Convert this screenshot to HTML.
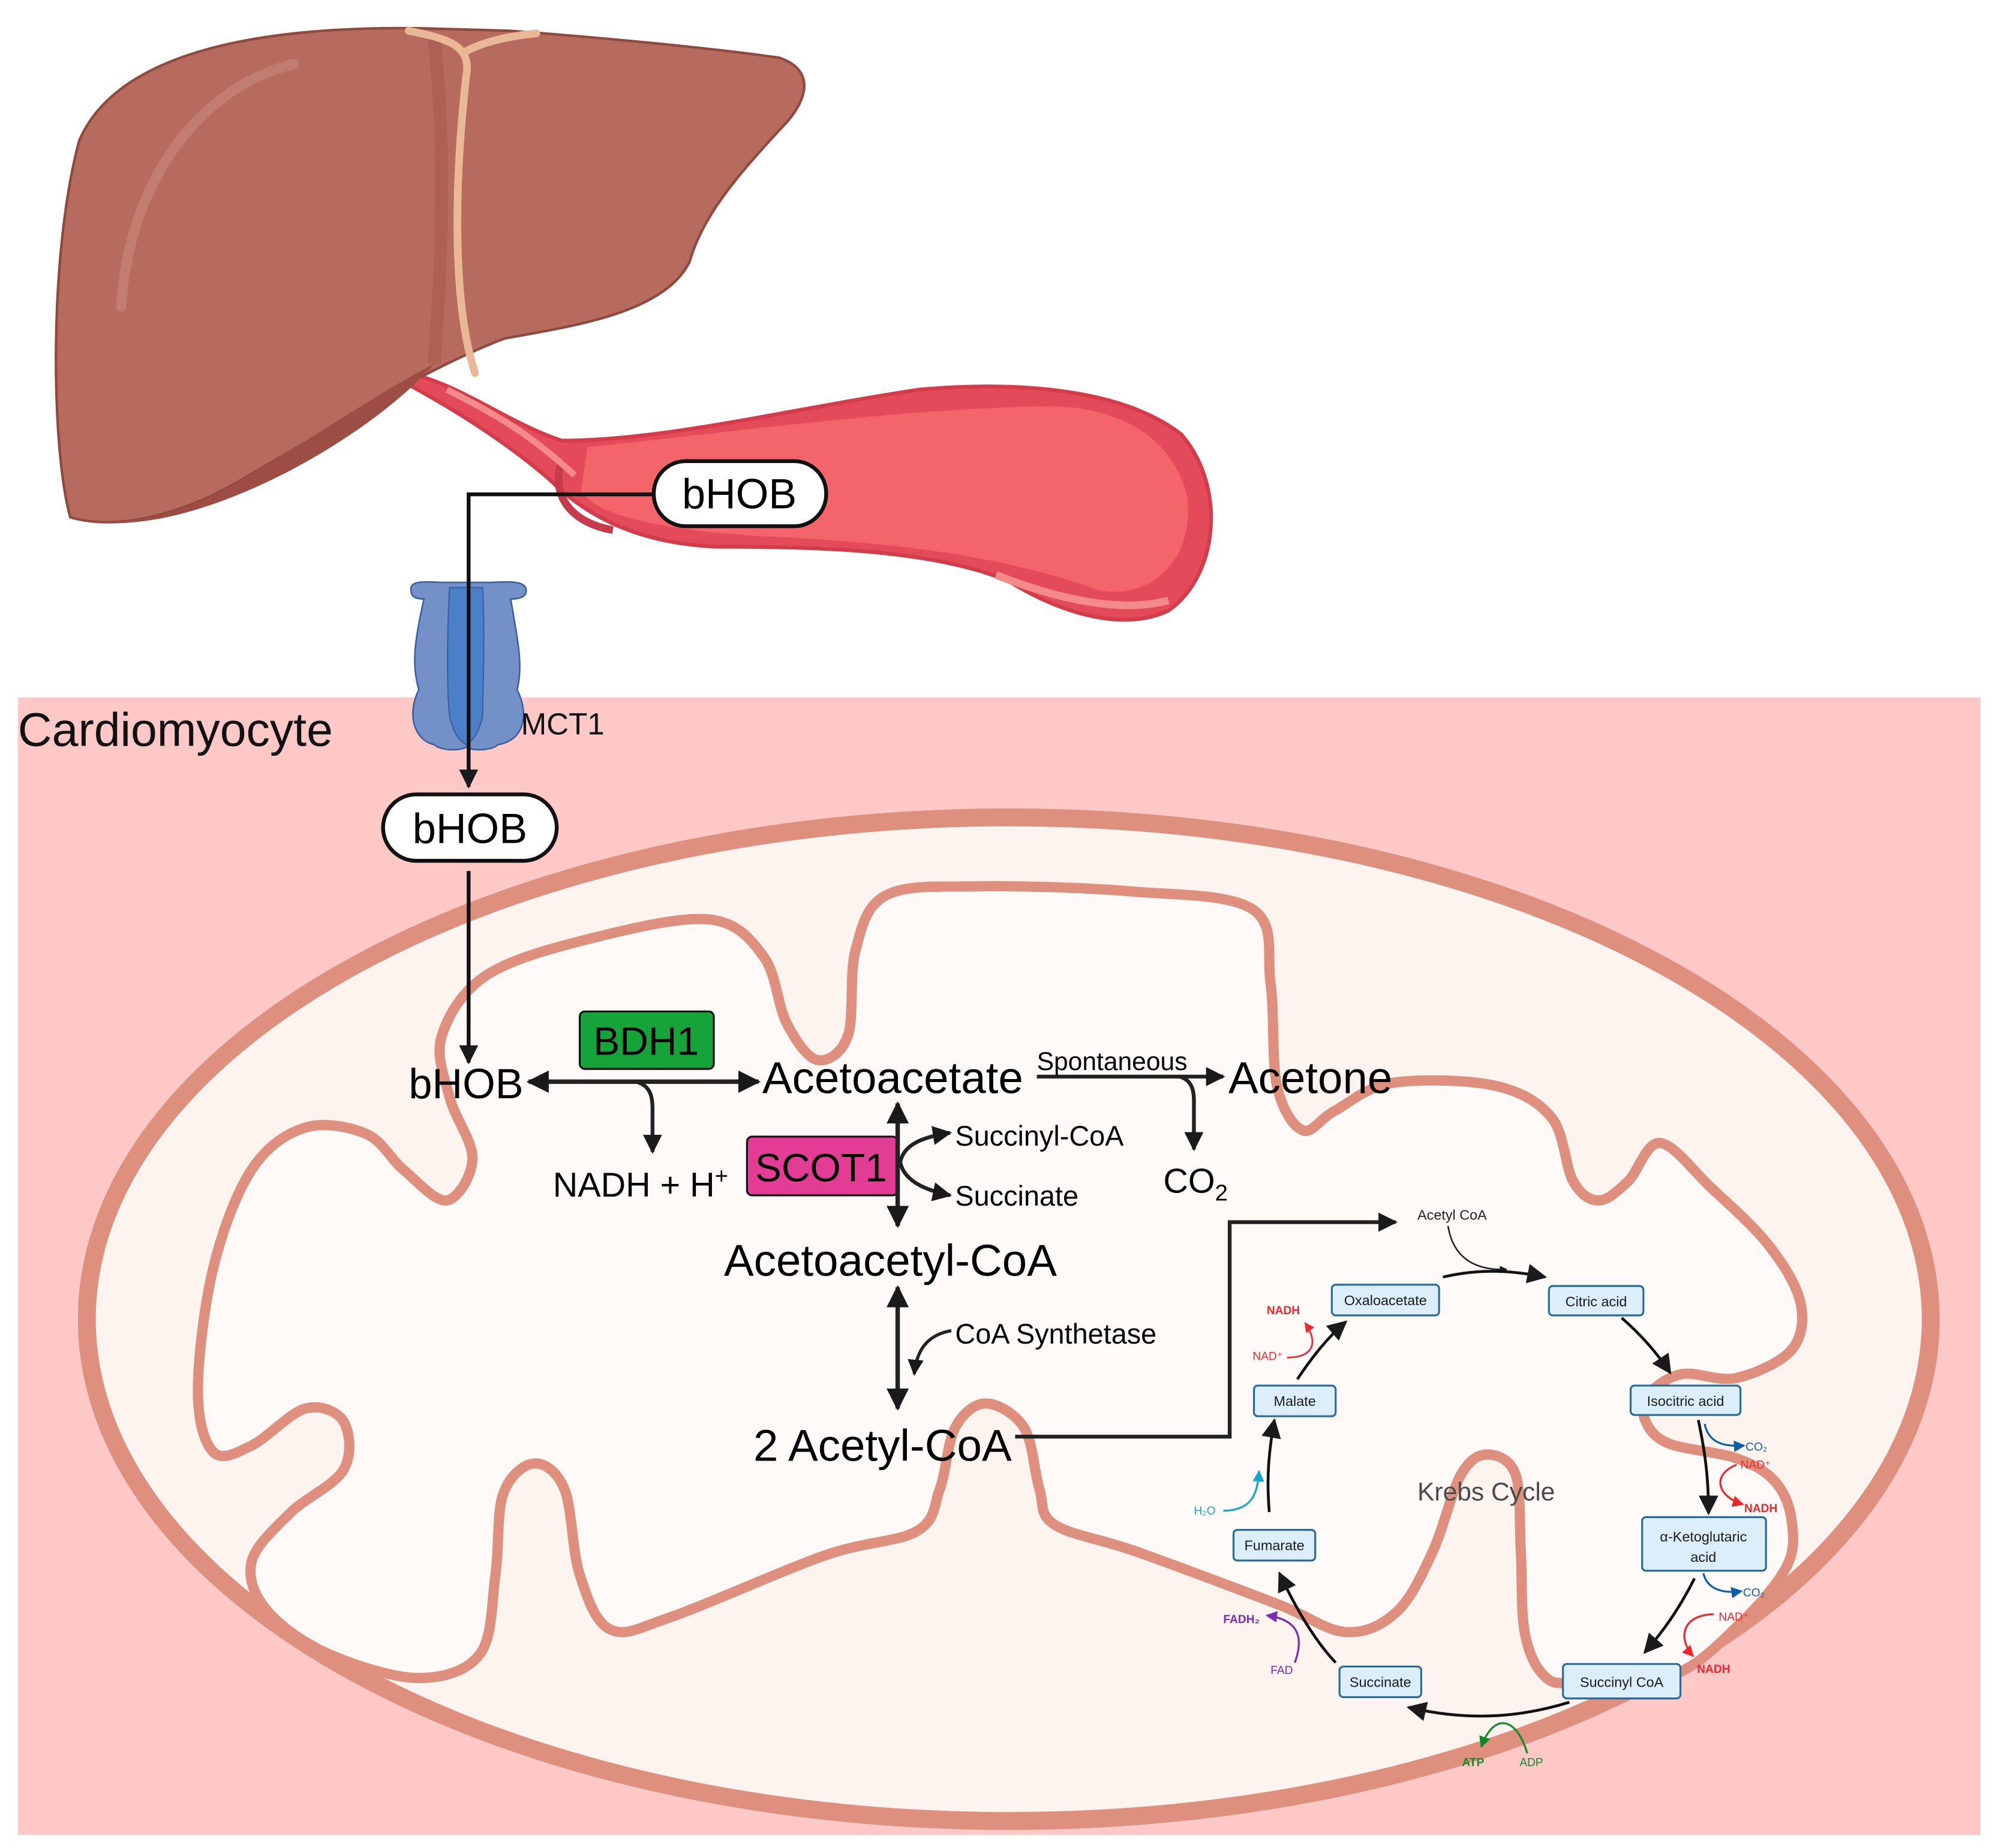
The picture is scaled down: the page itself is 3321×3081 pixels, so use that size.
<!DOCTYPE html>
<html><head><meta charset="utf-8"><style>
html,body{margin:0;padding:0;background:#fff}
svg{display:block}
text{font-family:"Liberation Sans",sans-serif}
</style></head><body>
<svg id="s" width="3321" height="3081" viewBox="0 0 1560 1447" xmlns="http://www.w3.org/2000/svg">
<defs>
<marker id="ah" viewBox="0 0 10 10" refX="9" refY="5" markerWidth="5" markerHeight="5" orient="auto-start-reverse"><path d="M0,0 L10,5 L0,10 z" fill="#1a1a1a"/></marker>
<marker id="ahs" viewBox="0 0 10 10" refX="9" refY="5" markerWidth="7" markerHeight="7" orient="auto-start-reverse"><path d="M0,0 L10,5 L0,10 z" fill="#1a1a1a"/></marker>
<marker id="ar" viewBox="0 0 10 10" refX="9" refY="5" markerWidth="6" markerHeight="6" orient="auto"><path d="M0,0 L10,5 L0,10 z" fill="#f0262c"/></marker>
<marker id="ab" viewBox="0 0 10 10" refX="9" refY="5" markerWidth="6" markerHeight="6" orient="auto"><path d="M0,0 L10,5 L0,10 z" fill="#0d5fa6"/></marker>
<marker id="ac" viewBox="0 0 10 10" refX="9" refY="5" markerWidth="6" markerHeight="6" orient="auto"><path d="M0,0 L10,5 L0,10 z" fill="#13a6c9"/></marker>
<marker id="ap" viewBox="0 0 10 10" refX="9" refY="5" markerWidth="6" markerHeight="6" orient="auto"><path d="M0,0 L10,5 L0,10 z" fill="#7a2ab3"/></marker>
<marker id="ag" viewBox="0 0 10 10" refX="9" refY="5" markerWidth="6" markerHeight="6" orient="auto"><path d="M0,0 L10,5 L0,10 z" fill="#138a2a"/></marker>
</defs>

<!-- cell background -->
<rect x="14" y="546" width="1537" height="891" fill="#fdc8c6"/>
<text x="14" y="584" font-size="37" fill="#111">Cardiomyocyte</text>

<!-- vessel -->
<path d="M318,292 C360,300 395,330 440,345 C520,345 620,320 720,305 C800,298 880,305 925,340 C960,380 955,450 915,478 C880,495 830,480 790,455 C730,430 640,428 560,428 C500,425 460,405 430,375 C395,345 355,320 318,300 Z" fill="#e34b5a" stroke="#d43c4c" stroke-width="3"/>
<path d="M460,350 C560,340 700,320 820,318 C880,318 920,345 930,390 C935,440 900,470 860,462 C800,440 720,425 600,420 C520,415 470,405 455,385 Z" fill="#f4656b"/>
<path d="M440,360 C430,390 450,410 480,415" fill="none" stroke="#c63a4b" stroke-width="6"/>
<path d="M350,305 C400,330 420,345 450,372" fill="none" stroke="#f58a8a" stroke-width="5"/>
<path d="M780,450 C830,470 880,480 915,470" fill="none" stroke="#f58a8a" stroke-width="6"/>

<!-- liver -->
<ellipse cx="228" cy="325" rx="46" ry="30" fill="#3a9a5c" stroke="#1f6b3b" stroke-width="2"/>
<ellipse cx="232" cy="336" rx="26" ry="16" fill="#5eb177"/>
<path d="M62,110 C90,45 190,20 330,22 L400,24 C480,30 560,38 610,45 C640,55 632,80 612,100 C575,140 550,170 540,205 C520,245 450,255 395,265 C330,290 260,335 190,375 C140,405 90,415 55,405 C40,350 38,200 62,110 Z" fill="#b66b5e" stroke="#8e4a3f" stroke-width="2"/>
<path d="M55,405 C90,415 140,405 190,375 C250,340 300,305 340,285 C300,330 220,380 150,400 C110,412 70,412 55,405Z" fill="#9d4d43"/>
<path d="M340,30 C350,120 345,220 340,285" fill="none" stroke="#a65a4e" stroke-width="10" opacity="0.6"/>
<path d="M95,240 C100,150 150,70 230,50" fill="none" stroke="#c98578" stroke-width="8" stroke-linecap="round" opacity="0.7"/>
<path d="M320,24 C350,30 370,35 365,60 C355,150 355,240 372,292 M365,40 C380,32 400,28 420,26" fill="none" stroke="#e9b896" stroke-width="6" stroke-linecap="round"/>

<!-- MCT1 -->
<path d="M322,463 C320,455 330,455 345,456 L385,456 C400,455 413,455 412,463 C412,468 405,469 400,469 C405,500 410,520 405,540 C415,560 410,580 390,583 C385,588 370,588 365,585 C360,588 345,588 340,583 C325,580 318,560 328,540 C322,520 325,500 332,469 C327,469 322,468 322,463Z" fill="#7490c8" stroke="#3b5f9e" stroke-width="1.2"/>
<path d="M352,460 L378,460 C380,500 378,540 378,560 C375,575 370,580 365,583 C360,580 355,575 352,560 C350,540 350,500 352,460Z" fill="#4b80c8" stroke="#3b5f9e" stroke-width="1"/>
<text x="408" y="575" font-size="24" fill="#111">MCT1</text>

<!-- mitochondrion -->
<ellipse cx="790" cy="1033" rx="722" ry="393" fill="#fdf3ef" stroke="#df8f7d" stroke-width="14"/>
<path id="inner" d="" fill="#fffaf8" stroke="#df8f7d" stroke-width="8"/>

<!-- bHOB pills & path -->
<path d="M512,387 L367,387 L367,616" fill="none" stroke="#111" stroke-width="3" marker-end="url(#ah)"/>
<rect x="512" y="361" width="135" height="51" rx="25" fill="#fff" stroke="#111" stroke-width="3"/>
<text x="579" y="398" font-size="33" text-anchor="middle">bHOB</text>
<rect x="300" y="622" width="136" height="52" rx="26" fill="#fff" stroke="#111" stroke-width="3"/>
<text x="368" y="660" font-size="33" text-anchor="middle">bHOB</text>
<path d="M367,682 L367,832" fill="none" stroke="#111" stroke-width="3" marker-end="url(#ah)"/>

<!-- pathway -->
<text x="365" y="860" font-size="33" text-anchor="middle">bHOB</text>
<path d="M414,847 L594,847" fill="none" stroke="#222" stroke-width="3.5" marker-start="url(#ah)" marker-end="url(#ah)"/>
<path d="M498,847 C510,850 511,860 511,868 L511,902" fill="none" stroke="#222" stroke-width="3" marker-end="url(#ah)"/>
<rect x="454" y="792" width="105" height="45" rx="4" fill="#16a33a" stroke="#111" stroke-width="1.5"/>
<text x="506" y="826" font-size="31" text-anchor="middle">BDH1</text>
<text x="433" y="937" font-size="27">NADH + H<tspan font-size="18" dy="-10">+</tspan></text>
<text x="597" y="856" font-size="35">Acetoacetate</text>
<path d="M812,843 L958,843" fill="none" stroke="#222" stroke-width="3" marker-end="url(#ah)"/>
<text x="812" y="838" font-size="20">Spontaneous</text>
<path d="M924,843 C934,846 935,855 935,862 L935,900" fill="none" stroke="#222" stroke-width="3" marker-end="url(#ah)"/>
<text x="962" y="856" font-size="35">Acetone</text>
<text x="911" y="934" font-size="27">CO<tspan font-size="18" dy="6">2</tspan></text>
<rect x="585" y="890" width="118" height="46" rx="4" fill="#e23c95" stroke="#111" stroke-width="1.5"/>
<text x="643" y="925" font-size="31" text-anchor="middle">SCOT1</text>
<path d="M703,864 L703,960" fill="none" stroke="#222" stroke-width="3.5" marker-start="url(#ah)" marker-end="url(#ah)"/>
<path d="M705,910 C708,895 725,890 744,887" fill="none" stroke="#222" stroke-width="3" marker-end="url(#ah)"/>
<path d="M705,910 C708,925 725,932 744,936" fill="none" stroke="#222" stroke-width="3" marker-end="url(#ah)"/>
<text x="748" y="897" font-size="22">Succinyl-CoA</text>
<text x="748" y="944" font-size="22">Succinate</text>
<text x="567" y="999" font-size="35">Acetoacetyl-CoA</text>
<path d="M703,1008 L703,1103" fill="none" stroke="#222" stroke-width="3.5" marker-start="url(#ah)" marker-end="url(#ah)"/>
<path d="M745,1042 C728,1045 718,1055 716,1076" fill="none" stroke="#222" stroke-width="2.5" marker-end="url(#ah)"/>
<text x="748" y="1052" font-size="22">CoA Synthetase</text>
<text x="590" y="1144" font-size="35">2 Acetyl-CoA</text>
<path d="M795,1125 L963,1125 L963,957 L1093,957" fill="none" stroke="#222" stroke-width="3" marker-end="url(#ah)"/>

<!-- Krebs -->
<text x="1110" y="955" font-size="11" fill="#222">Acetyl CoA</text>
<path d="M1134,960 C1138,985 1155,995 1180,994" fill="none" stroke="#222" stroke-width="1.2" marker-end="url(#ah)"/>
<path d="M1130,1000 C1160,993 1185,995 1210,1000" fill="none" stroke="#111" stroke-width="2.2" marker-end="url(#ahs)"/>
<path d="M1270,1032 C1285,1045 1298,1060 1308,1075" fill="none" stroke="#111" stroke-width="2.2" marker-end="url(#ahs)"/>
<path d="M1330,1112 C1336,1140 1338,1160 1338,1185" fill="none" stroke="#111" stroke-width="2.2" marker-end="url(#ahs)"/>
<path d="M1327,1236 C1315,1260 1302,1278 1288,1294" fill="none" stroke="#111" stroke-width="2.2" marker-end="url(#ahs)"/>
<path d="M1229,1333 C1190,1345 1150,1348 1103,1337" fill="none" stroke="#111" stroke-width="2.2" marker-end="url(#ahs)"/>
<path d="M1046,1302 C1030,1285 1015,1260 1002,1232" fill="none" stroke="#111" stroke-width="2.2" marker-end="url(#ahs)"/>
<path d="M994,1184 C992,1160 993,1140 998,1112" fill="none" stroke="#111" stroke-width="2.2" marker-end="url(#ahs)"/>
<path d="M1016,1080 C1028,1062 1040,1047 1054,1035" fill="none" stroke="#111" stroke-width="2.2" marker-end="url(#ahs)"/>

<g font-size="11" fill="#1a1a1a" text-anchor="middle">
<rect x="1043" y="1006" width="84" height="24" rx="3" fill="#dbeefa" stroke="#2a6c98" stroke-width="1.5"/><text x="1085" y="1022">Oxaloacetate</text>
<rect x="1213" y="1007" width="74" height="23" rx="3" fill="#dbeefa" stroke="#2a6c98" stroke-width="1.5"/><text x="1250" y="1023">Citric acid</text>
<rect x="1277" y="1085" width="86" height="23" rx="3" fill="#dbeefa" stroke="#2a6c98" stroke-width="1.5"/><text x="1320" y="1101">Isocitric acid</text>
<rect x="1286" y="1188" width="97" height="42" rx="3" fill="#dbeefa" stroke="#2a6c98" stroke-width="1.5"/><text x="1334" y="1207">α-Ketoglutaric</text><text x="1334" y="1223">acid</text>
<rect x="1224" y="1303" width="92" height="27" rx="3" fill="#dbeefa" stroke="#2a6c98" stroke-width="1.5"/><text x="1270" y="1321">Succinyl CoA</text>
<rect x="1049" y="1305" width="64" height="24" rx="3" fill="#dbeefa" stroke="#2a6c98" stroke-width="1.5"/><text x="1081" y="1321">Succinate</text>
<rect x="966" y="1198" width="64" height="24" rx="3" fill="#dbeefa" stroke="#2a6c98" stroke-width="1.5"/><text x="998" y="1214">Fumarate</text>
<rect x="982" y="1085" width="64" height="24" rx="3" fill="#dbeefa" stroke="#2a6c98" stroke-width="1.5"/><text x="1014" y="1101">Malate</text>
</g>
<text x="1110" y="1175" font-size="20" fill="#4a4a4a">Krebs Cycle</text>

<g font-size="9">
<text x="992" y="1029" fill="#f0262c" font-weight="bold">NADH</text>
<text x="981" y="1065" fill="#f0262c">NAD⁺</text>
<path d="M1008,1063 C1030,1063 1032,1050 1022,1036" fill="none" stroke="#f0262c" stroke-width="1.3" marker-end="url(#ar)"/>
<path d="M1335,1115 C1338,1130 1350,1133 1366,1132" fill="none" stroke="#0d5fa6" stroke-width="1.5" marker-end="url(#ab)"/>
<text x="1367" y="1136" fill="#0d5fa6">CO₂</text>
<text x="1363" y="1150" fill="#f0262c">NAD⁺</text>
<path d="M1360,1147 C1340,1155 1345,1172 1365,1178" fill="none" stroke="#f0262c" stroke-width="1.5" marker-end="url(#ar)"/>
<text x="1366" y="1184" fill="#f0262c" font-weight="bold">NADH</text>
<path d="M1334,1232 C1337,1245 1350,1248 1364,1246" fill="none" stroke="#0d5fa6" stroke-width="1.5" marker-end="url(#ab)"/>
<text x="1365" y="1250" fill="#0d5fa6">CO₂</text>
<text x="1346" y="1269" fill="#f0262c">NAD⁺</text>
<path d="M1342,1264 C1315,1265 1315,1285 1326,1297" fill="none" stroke="#f0262c" stroke-width="1.5" marker-end="url(#ar)"/>
<text x="1329" y="1310" fill="#f0262c" font-weight="bold">NADH</text>
<text x="935" y="1186" fill="#13a6c9">H₂O</text>
<path d="M958,1183 C980,1183 985,1170 986,1152" fill="none" stroke="#13a6c9" stroke-width="1.5" marker-end="url(#ac)"/>
<text x="958" y="1271" fill="#7a2ab3" font-weight="bold">FADH₂</text>
<path d="M1014,1302 C1022,1280 1015,1268 992,1265" fill="none" stroke="#7a2ab3" stroke-width="1.5" marker-end="url(#ap)"/>
<text x="995" y="1311" fill="#7a2ab3">FAD</text>
<path d="M1196,1373 C1188,1345 1170,1340 1160,1368" fill="none" stroke="#138a2a" stroke-width="1.5" marker-end="url(#ag)"/>
<text x="1145" y="1383" fill="#138a2a" font-weight="bold">ATP</text>
<text x="1190" y="1383" fill="#138a2a">ADP</text>
</g>
</svg>
<script>
var p=[[382,763],[466,734],[556,720],[598,749],[616,801],[640,830],[664,811],[670,744],[694,701],[766,694],[886,698],[981,712],[995,770],[1000,850],[1020,885],[1045,870],[1090,848],[1170,850],[1215,875],[1232,925],[1252,940],[1275,925],[1300,895],[1340,930],[1385,975],[1410,1020],[1403,1057],[1360,1079],[1317,1076],[1291,1092],[1288,1111],[1306,1130],[1360,1142],[1390,1160],[1403,1190],[1399,1227],[1360,1274],[1309,1312],[1234,1318],[1209,1312],[1194,1278],[1191,1215],[1187,1155],[1165,1139],[1144,1155],[1122,1215],[1094,1262],[1054,1278],[1000,1256],[890,1215],[826,1194],[814,1166],[802,1118],[772,1099],[748,1118],[736,1166],[718,1199],[646,1218],[526,1266],[478,1276],[454,1233],[442,1166],[418,1146],[394,1170],[388,1233],[376,1295],[328,1314],[257,1295],[209,1261],[197,1223],[227,1185],[269,1151],[269,1113],[239,1103],[197,1132],[167,1137],[155,1089],[167,993],[197,916],[239,883],[287,888],[316,916],[350,940],[370,907],[352,859],[346,811]];
var n=p.length,d="M"+p[0][0]+","+p[0][1];
for(var i=0;i<n;i++){var a=p[(i-1+n)%n],b=p[i],c=p[(i+1)%n],e=p[(i+2)%n];
d+=" C"+(b[0]+(c[0]-a[0])/6).toFixed(1)+","+(b[1]+(c[1]-a[1])/6).toFixed(1)+" "+(c[0]-(e[0]-b[0])/6).toFixed(1)+","+(c[1]-(e[1]-b[1])/6).toFixed(1)+" "+c[0]+","+c[1];}
document.getElementById("inner").setAttribute("d",d+"Z");
</script>
</body></html>
